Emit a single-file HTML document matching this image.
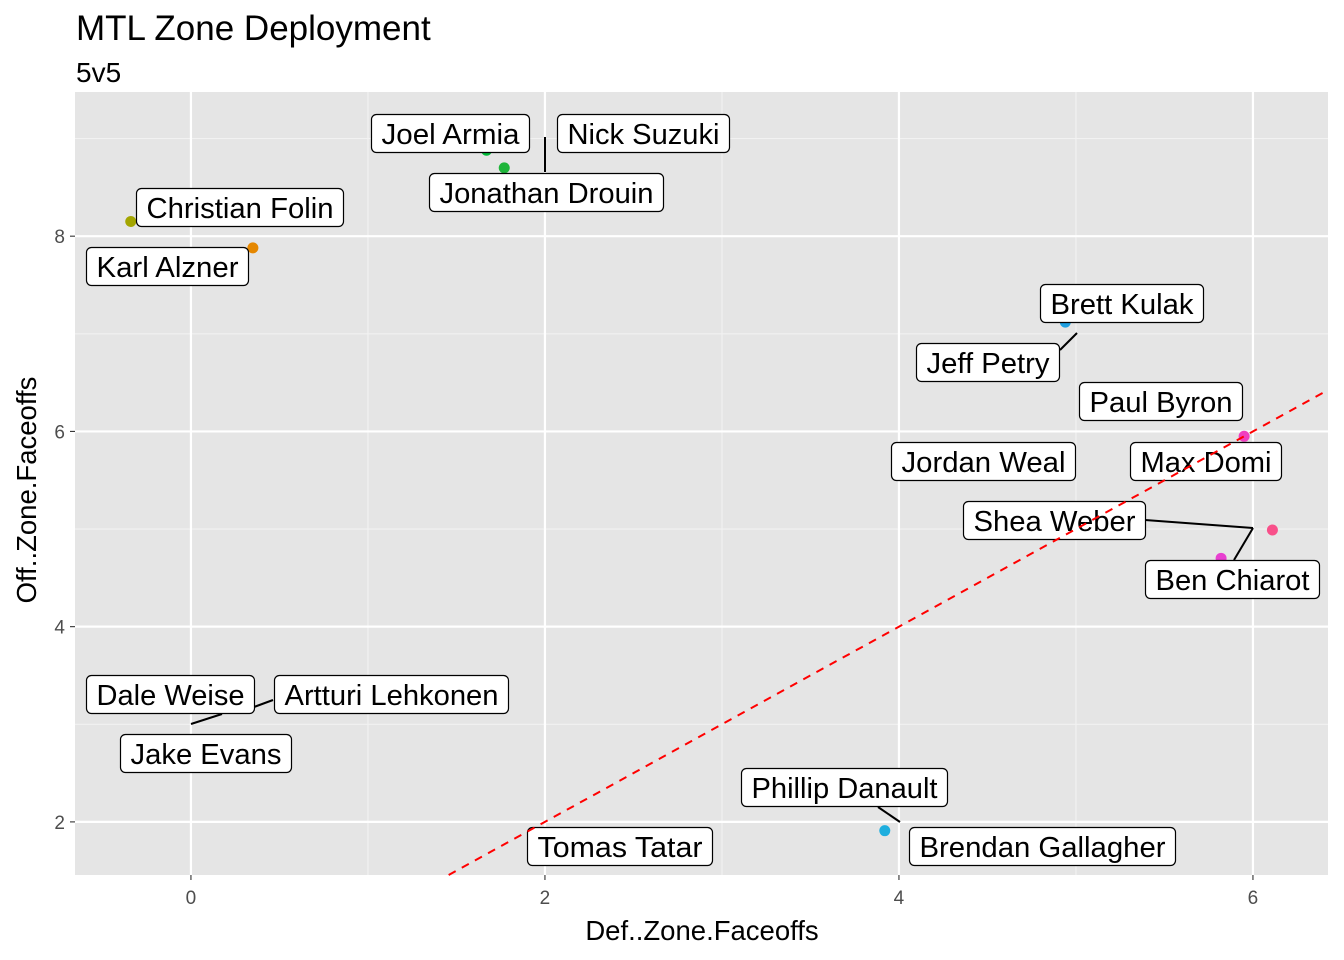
<!DOCTYPE html>
<html><head><meta charset="utf-8">
<style>
body{margin:0;background:#fff;}
svg{display:block;font-family:"Liberation Sans",Arial,sans-serif;}
</style></head>
<body>
<svg id="chart" width="1344" height="960">
<text x="76" y="40" font-size="35" fill="#000">MTL Zone Deployment</text>
<text x="76" y="82" font-size="28" fill="#000">5v5</text>
<rect x="75" y="92" width="1253" height="783" fill="#e5e5e5"/>
<g id="grid"></g>
<g id="points"></g>
<g id="labels"></g>
<g id="refline"></g>
<g id="axes"></g>
<text x="702" y="940" font-size="27.5" text-anchor="middle" fill="#000">Def..Zone.Faceoffs</text>
<text transform="translate(36,490) rotate(-90)" font-size="27.5" text-anchor="middle" fill="#000">Off..Zone.Faceoffs</text>
</svg>
<script>
const players = ["Christian Folin","Karl Alzner","Joel Armia","Jonathan Drouin","Brett Kulak","Paul Byron","Shea Weber","Ben Chiarot","Phillip Danault"];
const defZone = [-0.34,0.35,1.67,1.77,4.94,5.95,6.11,5.82,3.92];
const offZone = [8.15,7.88,8.88,8.70,7.12,5.95,4.99,4.70,1.91];
const pointColors = ["#a3a500","#e58700","#00ba38","#1fb53a","#1e9fe0","#f040c0","#f8508a","#e83fd0","#1eaede"];
const xTicks = [0,2,4,6];
const yTicks = [2,4,6,8];
const xMinor = [-1,1,3,5];
const yMinor = [3,5,7,9];
const xMin=-0.655, xMax=6.424, yMin=1.456, yMax=9.477;
const X0=75,X1=1328,Y0=875,Y1=92;
const sx=v=>X0+(v-xMin)/(xMax-xMin)*(X1-X0);
const sy=v=>Y0-(v-yMin)/(yMax-yMin)*(Y0-Y1);
const NS="http://www.w3.org/2000/svg";
function mk(tag,attrs,parent){const e=document.createElementNS(NS,tag);for(const k in attrs)e.setAttribute(k,attrs[k]);parent.appendChild(e);return e;}
const grid=document.getElementById('grid');
xMinor.forEach(v=>{const x=sx(v);if(x<X0||x>X1)return;const l=mk('line',{x1:x,x2:x,y1:Y1,y2:Y0,stroke:'#f2f2f2','stroke-width':1.1},grid);

});
yMinor.forEach(v=>{const y=sy(v);const l=mk('line',{x1:X0,x2:X1,y1:y,y2:y,stroke:'#f2f2f2','stroke-width':1.1},grid);

});
const axes=document.getElementById('axes');
xTicks.forEach(v=>{const x=sx(v);const l=mk('line',{x1:x,x2:x,y1:Y1,y2:Y0,stroke:'#fff','stroke-width':2.2},grid);


mk('line',{x1:x,x2:x,y1:Y0,y2:Y0+5,stroke:'#333','stroke-width':1.1},axes);
const t=mk('text',{x:x,y:Y0+29,'font-size':19,'text-anchor':'middle',fill:'#4d4d4d'},axes);t.textContent=v;

});
yTicks.forEach(v=>{const y=sy(v);const l=mk('line',{x1:X0,x2:X1,y1:y,y2:y,stroke:'#fff','stroke-width':2.2},grid);


mk('line',{x1:X0-5,x2:X0,y1:y,y2:y,stroke:'#333','stroke-width':1.1},axes);
const t=mk('text',{x:X0-10,y:y+7,'font-size':19,'text-anchor':'end',fill:'#4d4d4d'},axes);t.textContent=v;

});
const rl=document.getElementById('refline');
const a=Math.max(xMin,yMin), b=Math.min(xMax,yMax);
const ref=mk('line',{x1:sx(a),y1:sy(a),x2:sx(b),y2:sy(b),stroke:'#ff0000','stroke-width':2,'stroke-dasharray':'8,7'},rl);


const pts=document.getElementById('points');
players.forEach((p,i)=>{const c=mk('circle',{cx:sx(defZone[i]),cy:sy(offZone[i]),r:5.5,fill:pointColors[i]},pts);

});
const lab=document.getElementById('labels');
const segs=[[545,137,545,172],[1060,350,1077,333],[1145,520,1253,528],[1253,528,1234,560],[254,707,273,700],[191,724,222,714],[878,807,900,822]];
segs.forEach(s=>{const l=mk('line',{x1:s[0],y1:s[1],x2:s[2],y2:s[3],stroke:'#000','stroke-width':2},lab);

});
const boxes=[["Joel Armia",371,114,158],["Nick Suzuki",557,114,172],["Jonathan Drouin",429,173,234],["Christian Folin",136,188,207],["Karl Alzner",86,247,162],["Brett Kulak",1040,284,163],["Jeff Petry",916,343,143],["Paul Byron",1079,382,163],["Jordan Weal",891,442,184],["Max Domi",1130,442,151],["Shea Weber",963,501,182],["Ben Chiarot",1145,560,174],["Dale Weise",86,675,168],["Artturi Lehkonen",274,675,234],["Jake Evans",120,734,171],["Phillip Danault",741,768,206],["Tomas Tatar",527,827,185],["Brendan Gallagher",909,827,266]];
boxes.forEach(b=>{const g=mk('g',{},lab);


mk('rect',{x:b[1]+0.5,y:b[2]+0.5,width:b[3],height:38,rx:5,fill:'#fff',stroke:'#000','stroke-width':1.2},g);
const t=mk('text',{x:b[1]+b[3]/2+0.5,y:b[2]+30,'font-size':28.5,'text-anchor':'middle',fill:'#000'},g);t.textContent=b[0];
t.setAttribute('textLength',b[3]-20);
t.setAttribute('lengthAdjust','spacingAndGlyphs');});
</script>
</body></html>
